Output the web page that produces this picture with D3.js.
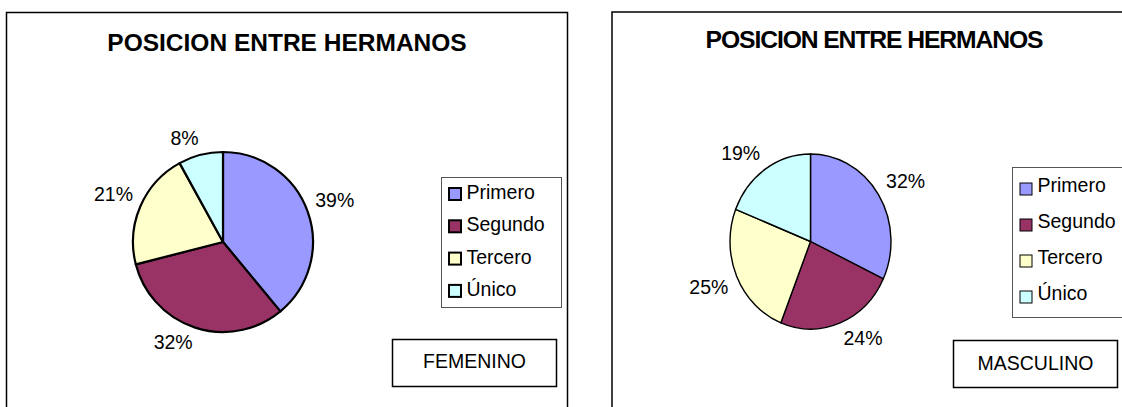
<!DOCTYPE html>
<html>
<head>
<meta charset="utf-8">
<script src="https://cdn.jsdelivr.net/npm/d3@7/dist/d3.min.js"></script>
<style>
    body { margin: 0; background: #ffffff; }
    text { font-family: Arial, "Liberation Sans", sans-serif; fill: #000; }
</style>
</head>
<body>
<script>
// data
let categories = ["Primero", "Segundo", "Tercero", "Único"];
let femenino = [39, 32, 21, 8];
let masculino = [32, 24, 25, 19];
let titleText = "POSICION ENTRE HERMANOS";
let colors = ["#9999ff", "#993366", "#ffffcc", "#ccffff"];

let width = 1122, height = 407;

let svg = d3.select("body")
    .append("svg")
        .attr("width", width)
        .attr("height", height)
        .style("background-color", "#ffffff");

// layout of each panel (left: femenino, right: masculino)
let panels = [
    {
        values: femenino, tag: "FEMENINO",
        frame: {x: 6.5, y: 12.5, w: 561, h: 420, stroke: 1.5},
        title: {x: 287, y: 51, size: 24.5, spacing: 0},
        pie: {cx: 223, cy: 242, rx: 90, ry: 90, stroke: 2.2, gap: 8},
        legend: {x: 441.5, y: 177.5, w: 120, h: 130, row0: 199, step: 32.3, sw: 2, swOff: 11},
        box: {x: 392.5, y: 339.5, w: 164, h: 47, base: 28.5}
    },
    {
        values: masculino, tag: "MASCULINO",
        frame: {x: 612, y: 12, w: 530, h: 420, stroke: 1.5},
        title: {x: 874, y: 48, size: 24.7, spacing: -1.1},
        pie: {cx: 810.5, cy: 241.5, rx: 80.5, ry: 87.5, stroke: 1.4, gap: 9},
        legend: {x: 1012.5, y: 167.5, w: 130, h: 150, row0: 192, step: 36, sw: 1, swOff: 9},
        box: {x: 953.5, y: 340.5, w: 164, h: 47, base: 29.5}
    }
];

let pie = d3.pie().sort(null).value(function(d) { return d; });

panels.forEach(function(p) {
    let g = svg.append("g");

    // outer frame of the chart
    g.append("rect")
        .attr("x", p.frame.x)
        .attr("y", p.frame.y)
        .attr("width", p.frame.w)
        .attr("height", p.frame.h)
        .attr("fill", "none")
        .attr("stroke", "#000")
        .attr("stroke-width", p.frame.stroke);

    g.append("text")
        .text(titleText)
        .attr("x", p.title.x)
        .attr("y", p.title.y)
        .attr("text-anchor", "middle")
        .style("font-size", p.title.size + "px")
        .style("font-weight", "bold")
        .style("letter-spacing", p.title.spacing + "px");

    let arcs = pie(p.values);
    let r = p.pie.ry;
    let arc = d3.arc().innerRadius(0).outerRadius(r);

    // pie drawn as circle, squeezed horizontally when rx < ry
    let pieG = g.append("g")
        .attr("transform", "translate(" + p.pie.cx + "," + p.pie.cy + ") scale(" + (p.pie.rx / r) + ",1)");

    pieG.selectAll("path")
        .data(arcs)
        .enter()
        .append("path")
            .attr("d", arc)
            .attr("fill", function(d, i) { return colors[i]; })
            .attr("stroke", "#000")
            .attr("stroke-width", p.pie.stroke)
            .attr("stroke-linejoin", "round")
            .attr("vector-effect", "non-scaling-stroke");

    // percentage labels just outside the slice, anchored by quadrant
    g.selectAll("text.pct")
        .data(arcs)
        .enter()
        .append("text")
            .attr("class", "pct")
            .text(function(d) { return d.data + "%"; })
            .attr("x", function(d) {
                let a = (d.startAngle + d.endAngle) / 2;
                return p.pie.cx + (p.pie.rx + p.pie.gap) * Math.sin(a);
            })
            .attr("y", function(d) {
                let a = (d.startAngle + d.endAngle) / 2;
                let y = p.pie.cy - (p.pie.ry + p.pie.gap) * Math.cos(a);
                return Math.cos(a) >= 0 ? y - 2 : y + 14;
            })
            .attr("text-anchor", function(d) {
                let a = (d.startAngle + d.endAngle) / 2;
                return Math.sin(a) >= 0 ? "start" : "end";
            })
            .style("font-size", "19.5px");

    // legend
    g.append("rect")
        .attr("x", p.legend.x)
        .attr("y", p.legend.y)
        .attr("width", p.legend.w)
        .attr("height", p.legend.h)
        .attr("fill", "#fff")
        .attr("stroke", "#555")
        .attr("stroke-width", 1);

    let rows = g.selectAll("g.row")
        .data(categories)
        .enter()
        .append("g")
            .attr("class", "row")
            .attr("transform", function(d, i) {
                return "translate(" + p.legend.x + "," + (p.legend.row0 + i * p.legend.step) + ")";
            });

    rows.append("rect")
        .attr("x", 7.5)
        .attr("y", -p.legend.swOff)
        .attr("width", 12)
        .attr("height", 12)
        .attr("fill", function(d, i) { return colors[i]; })
        .attr("stroke", "#000")
        .attr("stroke-width", p.legend.sw);

    rows.append("text")
        .text(function(d) { return d; })
        .attr("x", 25)
        .attr("y", 0)
        .style("font-size", "19.5px");

    // FEMENINO / MASCULINO tag box
    g.append("rect")
        .attr("x", p.box.x)
        .attr("y", p.box.y)
        .attr("width", p.box.w)
        .attr("height", p.box.h)
        .attr("fill", "#fff")
        .attr("stroke", "#000")
        .attr("stroke-width", 1.5);

    g.append("text")
        .text(p.tag)
        .attr("x", p.box.x + p.box.w / 2)
        .attr("y", p.box.y + p.box.base)
        .attr("text-anchor", "middle")
        .style("font-size", "19.5px");
});
</script>
</body>
</html>
